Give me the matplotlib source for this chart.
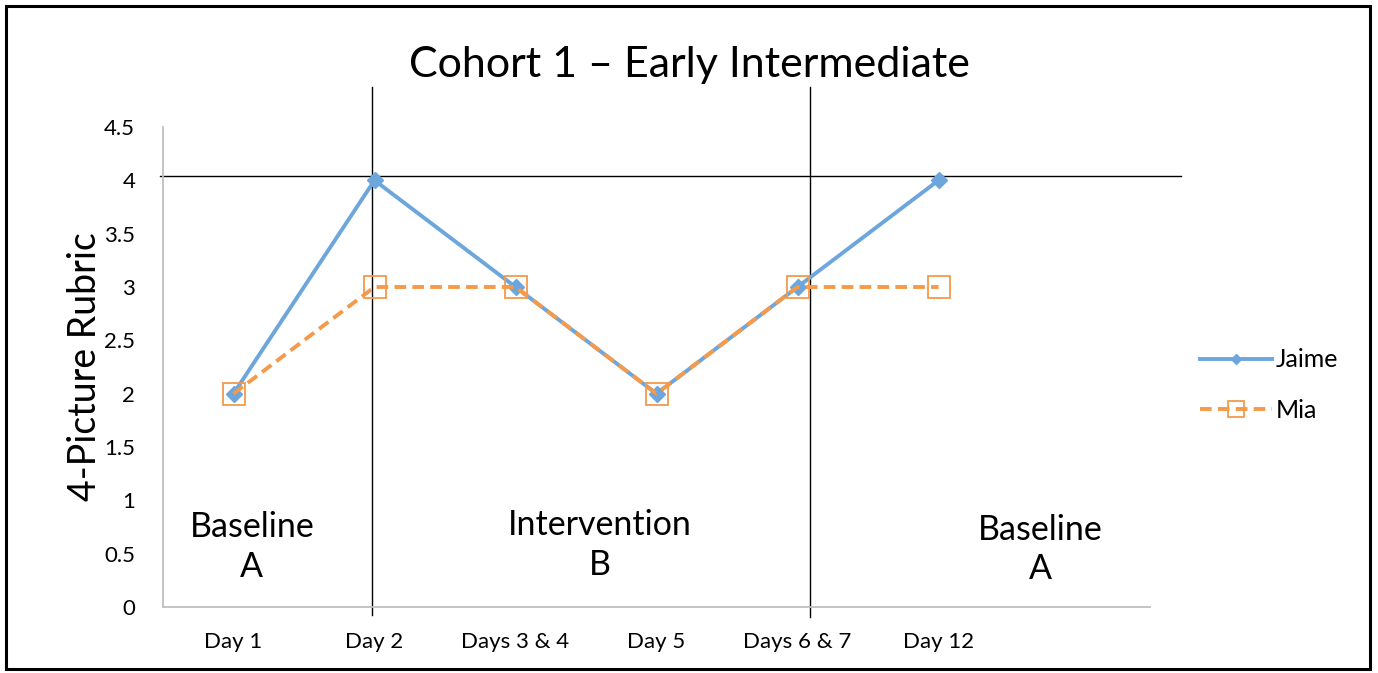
import matplotlib
matplotlib.use("Agg")
import matplotlib.pyplot as plt
from matplotlib.patches import Rectangle

categories = ["Day 1", "Day 2", "Days 3 & 4", "Day 5", "Days 6 & 7", "Day 12", ""]
jaime = [2, 4, 3, 2, 3, 4]
mia = [2, 3, 3, 2, 3, 3]
yticks = [0, 0.5, 1, 1.5, 2, 2.5, 3, 3.5, 4, 4.5]
ytick_labels = ["0", "0.5", "1", "1.5", "2", "2.5", "3", "3.5", "4", "4.5"]
phase_labels = ["Baseline\nA", "Intervention\nB", "Baseline\nA"]

plt.rcParams['font.family'] = ['Lato', 'DejaVu Sans']

W, H = 1378, 673
fig = plt.figure(figsize=(W/100, H/100), dpi=100)
ax = fig.add_axes([163/W, 1-607/H, (1150-163)/W, (607-127)/H])

x = list(range(len(jaime)))
blue = '#6CA6DC'
orange = '#F59A4A'
ax.plot(x, jaime, color=blue, lw=2.8, marker='D', ms=8, mfc=blue, mec=blue, label='Jaime', zorder=3)
ax.plot(x, mia, color=orange, lw=2.8, ls=(0, (3, 1.6)), marker='s', ms=16, mfc='none', mec=orange, mew=1.3, label='Mia', zorder=4)

ax.set_xlim(-0.5, len(categories) - 0.5)
ax.set_ylim(0, 4.5)
ax.set_xticks(range(len(categories)))
ax.set_xticklabels(categories, fontsize=16)
ax.set_yticks(yticks)
ax.set_yticklabels(ytick_labels, fontsize=16)
ax.tick_params(axis='y', length=0, pad=20)
ax.tick_params(axis='x', length=0, pad=18)
for s in ['top', 'right']:
    ax.spines[s].set_visible(False)
for s in ['left', 'bottom']:
    ax.spines[s].set_color('#BFBFBF')
    ax.spines[s].set_linewidth(1.3)

ax.set_ylabel("4-Picture Rubric", fontsize=27, labelpad=1)
fig.text(689/W, 1-65/H, "Cohort 1 \u2013 Early Intermediate", fontsize=31, ha='center', va='center')

# phase divider lines
ax.plot([0.98, 0.98], [-0.075, 4.875], color='black', lw=1, clip_on=False, zorder=2)
ax.plot([4.09, 4.09], [-0.09, 4.875], color='black', lw=1, clip_on=False, zorder=2)
ax.plot([-0.52, 6.72], [4.04, 4.04], color='black', lw=1, clip_on=False, zorder=2)

ax.text(0.13, 0.56, phase_labels[0], fontsize=24.5, ha='center', va='center', linespacing=1.3)
ax.text(2.6, 0.58, phase_labels[1], fontsize=24.5, ha='center', va='center', linespacing=1.3)
ax.text(5.72, 0.54, phase_labels[2], fontsize=24.5, ha='center', va='center', linespacing=1.3)

leg = ax.legend(loc='center left', bbox_to_anchor=(1177/W, 1-385/H), bbox_transform=fig.transFigure,
                frameon=False, fontsize=18, handlelength=2.9, labelspacing=1.1, handletextpad=0.15,
                markerscale=0.7)

fig.add_artist(Rectangle((6/W, 4/H), (1370-6)/W, (669-6)/H, transform=fig.transFigure,
                         fill=False, edgecolor='black', lw=2.2))

fig.savefig("out.png", dpi=100)
